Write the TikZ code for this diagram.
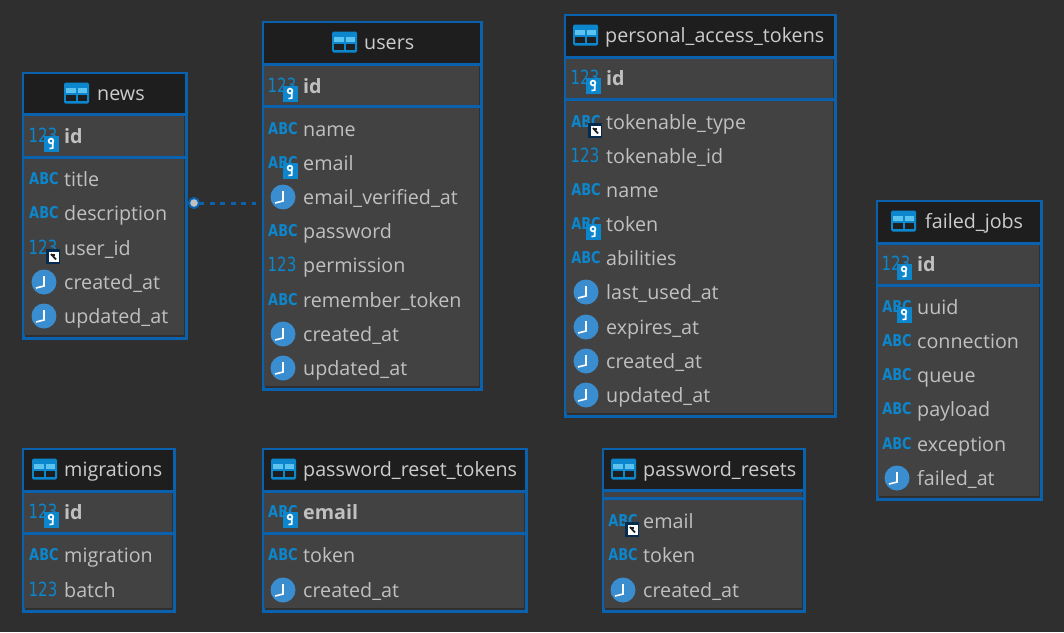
\documentclass[tikz,border=0pt]{standalone}
\usepackage{fontspec}
\setmainfont{Open Sans}
\newfontfamily\iconfont{DejaVu Sans}
\definecolor{bgc}{HTML}{2F2F2F}
\definecolor{rowc}{HTML}{424242}
\definecolor{headc}{HTML}{1E1E1E}
\definecolor{framec}{HTML}{0A62AE}
\definecolor{iconc}{HTML}{0C86CC}
\definecolor{clockc}{HTML}{3A8DCF}
\definecolor{lightc}{HTML}{5CC2EE}
\definecolor{textc}{HTML}{C0C0C0}
\definecolor{titlec}{HTML}{CCCCCC}
\tikzset{
  x=1pt,y=-1pt,
  tableframe/.style={draw=framec,line width=3pt,fill=bgc,inner sep=0pt,outer sep=1.5pt},
  coltext/.style={anchor=base west,inner sep=0pt,text=textc,font=\fontsize{19.7}{24}\selectfont},
  titletext/.style={anchor=base west,inner sep=0pt,text=titlec,font=\fontsize{19.7}{24}\selectfont},
  abclabel/.style={inner sep=0pt,text=iconc,font=\iconfont\bfseries\fontsize{13}{14}\selectfont},
  numlabel/.style={inner sep=0pt,text=iconc,font=\iconfont\fontsize{15}{16}\selectfont},
  relline/.style={draw=framec,line width=3pt,dash pattern=on 5pt off 5.5pt},
  reldot/.style={circle,draw=framec,fill=textc,line width=2pt,minimum size=10pt,inner sep=0pt,outer sep=0pt},
}
% table: id, x0, y0, x1, y1, line1, line2, table icon x
\newcommand{\erdtable}[8]{%
  \node[tableframe,minimum width={#4-#2-2},minimum height={#5-#3-2}] (#1) at ({(#2+#4)/2},{(#3+#5)/2}) {};
  \fill[rowc] (#2+2,#6) rectangle (#4-3,#5-4);
  \fill[headc] (#2+2,#3+2) rectangle (#4-2,#6);
  \fill[framec] (#2+2,#6) rectangle (#4-1,#6+2.5);
  \fill[framec] (#2+2,#7) rectangle (#4-1,#7+2.5);
  \tableicon{#8}{#3+21}
}
\newcommand{\tableicon}[2]{%
  \begin{scope}[shift={(#1,#2)}]
    \fill[iconc,rounded corners=1.5pt] (0,-10.5) rectangle (25,10.5);
    \fill[lightc] (2,-5.5) rectangle (12,0);
    \fill[lightc] (14,-5.5) rectangle (23,0);
    \fill[headc] (2,2) rectangle (12,8);
    \fill[headc] (14,2) rectangle (23,8);
  \end{scope}}
\newcommand{\clockicon}[2]{%
  \begin{scope}[shift={(#1,#2)}]
    \fill[clockc] (0,0) circle (12.5);
    \draw[white,line width=1.6pt] (0,-6) -- (0,4) -- (-8,6);
  \end{scope}}
\newcommand{\keybadge}[2]{%
  \begin{scope}[shift={(#1,#2)}]
    \fill[iconc] (0,0) rectangle (14.5,15.5);
    \draw[white,line width=1.6pt] (7,5) circle (2.4);
    \draw[white,line width=1.6pt] (8.7,7) -- (8.7,12) -- (5.5,12.6);
  \end{scope}}
\newcommand{\refbadge}[2]{%
  \begin{scope}[shift={(#1,#2)}]
    \fill[framec!45!black] (-1,-1) rectangle (13,14);
    \fill[white] (1.5,1.5) rectangle (11.5,12);
    \draw[headc,line width=1.8pt] (4,4) -- (9,9.5);
    \fill[headc] (3.5,3.5) rectangle (8,6);
  \end{scope}}
% column: id, x0 of table, y, icon type, badge type, text
\newcommand{\col}[6]{%
  \csname icon#4\endcsname{#1i}{#2+22}{#3}
  \csname badge#5\endcsname{#2+22}{#3}
  \node[coltext] (#1) at (#2+42,#3+7) {#6};
}
\newcommand{\iconabc}[3]{\node[abclabel] (#1) at (#2,#3) {\scalebox{1}[1.25]{ABC}};}
\newcommand{\iconnum}[3]{\node[numlabel] (#1) at (#2-1,#3-1) {\scalebox{1}[1.3]{123}};}
\newcommand{\iconclock}[3]{\clockicon{#2}{#3}}
\newcommand{\badgenone}[2]{}
\newcommand{\badgekey}[2]{\keybadge{#1}{#2}}
\newcommand{\badgeref}[2]{\refbadge{#1+3}{#2+2}}
\newcommand{\ttl}[4]{\node[titletext] (#1) at (#2,#3+7) {#4};}
\begin{document}
\begin{tikzpicture}
\useasboundingbox (0,0) rectangle (1064,632);
\fill[bgc] (0,0) rectangle (1064,632);
% news
\erdtable{news}{22}{72}{187}{339}{113}{156}{64}
\ttl{newst}{97}{93}{news}
\col{newsA}{22}{136}{num}{key}{\textbf{id}}
\col{newsB}{22}{179}{abc}{none}{title}
\col{newsC}{22}{213}{abc}{none}{description}
\col{newsD}{22}{248}{num}{ref}{user\_id}
\col{newsE}{22}{282}{clock}{none}{created\_at}
\col{newsF}{22}{316}{clock}{none}{updated\_at}
% users
\erdtable{users}{262}{21}{482}{390}{63}{105}{332}
\ttl{userst}{364}{42}{users}
\col{usersA}{261}{86}{num}{key}{\textbf{id}}
\col{usersB}{261}{129}{abc}{none}{name}
\col{usersC}{261}{163}{abc}{key}{email}
\col{usersD}{261}{197}{clock}{none}{email\_verified\_at}
\col{usersE}{261}{231}{abc}{none}{password}
\col{usersF}{261}{265}{num}{none}{permission}
\col{usersG}{261}{300}{abc}{none}{remember\_token}
\col{usersH}{261}{334}{clock}{none}{created\_at}
\col{usersI}{261}{368}{clock}{none}{updated\_at}
% personal_access_tokens
\erdtable{pat}{564}{14}{836}{417}{56}{98}{573}
\ttl{patt}{605}{35}{personal\_access\_tokens}
\col{patA}{564}{78}{num}{key}{\textbf{id}}
\col{patB}{564}{122}{abc}{ref}{tokenable\_type}
\col{patC}{564}{156}{num}{none}{tokenable\_id}
\col{patD}{564}{190}{abc}{none}{name}
\col{patE}{564}{224}{abc}{key}{token}
\col{patF}{564}{258}{abc}{none}{abilities}
\col{patG}{564}{292}{clock}{none}{last\_used\_at}
\col{patH}{564}{327}{clock}{none}{expires\_at}
\col{patI}{564}{361}{clock}{none}{created\_at}
\col{patJ}{564}{395}{clock}{none}{updated\_at}
% failed_jobs
\erdtable{failed}{876}{200}{1042}{500}{242}{284}{891}
\ttl{failedt}{925}{221}{failed\_jobs}
\col{failedA}{875}{264}{num}{key}{\textbf{id}}
\col{failedB}{875}{307}{abc}{key}{uuid}
\col{failedC}{875}{341}{abc}{none}{connection}
\col{failedD}{875}{375}{abc}{none}{queue}
\col{failedE}{875}{409}{abc}{none}{payload}
\col{failedF}{875}{444}{abc}{none}{exception}
\col{failedG}{875}{478}{clock}{none}{failed\_at}
% migrations
\erdtable{mig}{22}{448}{175}{612}{490}{532}{32}
\ttl{migt}{64}{469}{migrations}
\col{migA}{22}{512}{num}{key}{\textbf{id}}
\col{migB}{22}{555}{abc}{none}{migration}
\col{migC}{22}{590}{num}{none}{batch}
% password_reset_tokens
\erdtable{prtk}{262}{448}{527}{612}{490}{532}{271}
\ttl{prtkt}{303}{469}{password\_reset\_tokens}
\col{prtkA}{261}{512}{abc}{key}{\textbf{email}}
\col{prtkB}{261}{555}{abc}{none}{token}
\col{prtkC}{261}{590}{clock}{none}{created\_at}
% password_resets
\erdtable{pr}{602}{448}{805}{612}{489}{497}{611}
\ttl{prt}{643}{469}{password\_resets}
\col{prA}{601}{521}{abc}{ref}{email}
\col{prB}{601}{555}{abc}{none}{token}
\col{prC}{601}{590}{clock}{none}{created\_at}
% connector
\node[reldot] (reldotn) at (194,203) {};
\coordinate (relend) at (users.west |- reldotn);
\draw[relline] (reldotn) -- ([xshift=-6pt]relend);
\end{tikzpicture}
\end{document}
